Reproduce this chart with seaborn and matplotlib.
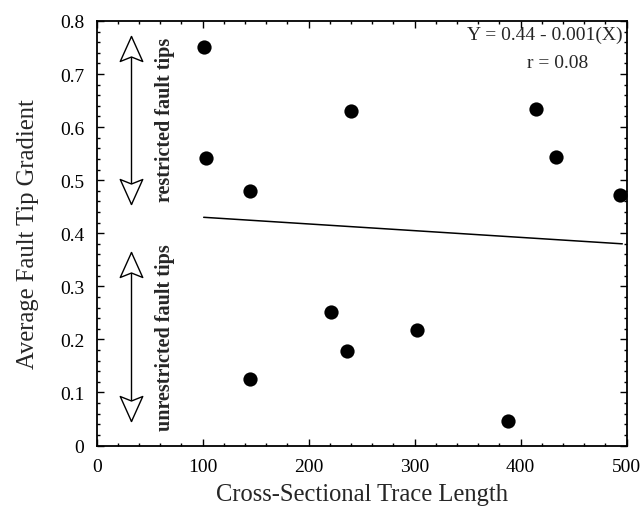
import matplotlib
matplotlib.use("Agg")
import matplotlib.pyplot as plt
from matplotlib.path import Path
from matplotlib.ticker import MultipleLocator
import seaborn as sns
import pandas as pd

# Data
trace_length = [101, 103, 145, 145, 221, 236, 240, 302, 388, 415, 433, 494]
tip_gradient = [0.751, 0.541, 0.480, 0.126, 0.251, 0.179, 0.631, 0.218, 0.047, 0.634, 0.544, 0.472]
fit_x = [101, 496]
fit_y = [0.430, 0.380]
x_ticks = [0, 100, 200, 300, 400, 500]
y_ticks = [0, 0.1, 0.2, 0.3, 0.4, 0.5, 0.6, 0.7, 0.8]
y_ticklabels = ["0", "0.1", "0.2", "0.3", "0.4", "0.5", "0.6", "0.7", "0.8"]

sns.set_style("ticks")
plt.rcParams["font.family"] = ["Liberation Serif", "DejaVu Serif"]

fig = plt.figure(figsize=(6.4, 5.1), dpi=100)
ax = fig.add_axes([0.151, 0.1245, 0.828, 0.8325])

df = pd.DataFrame({"x": trace_length, "y": tip_gradient})
sns.scatterplot(data=df, x="x", y="y", ax=ax, s=105, color="black",
                edgecolor="black", linewidth=0, zorder=3, clip_on=False)
fit = pd.DataFrame({"x": fit_x, "y": fit_y})
sns.lineplot(data=fit, x="x", y="y", ax=ax, color="black", linewidth=1.1)

ax.set_xlim(0, 500)
ax.set_ylim(0, 0.8)
ax.set_xticks(x_ticks)
ax.set_xticklabels([str(t) for t in x_ticks])
ax.set_yticks(y_ticks)
ax.set_yticklabels(y_ticklabels)
ax.xaxis.set_minor_locator(MultipleLocator(20))
ax.yaxis.set_minor_locator(MultipleLocator(0.02))
ax.tick_params(which="both", direction="in", top=True, right=True,
               width=1.0, colors="black")
ax.tick_params(which="major", length=5, labelsize=14, pad=9)
ax.tick_params(which="minor", length=2.5)
for sp in ax.spines.values():
    sp.set_visible(True)
    sp.set_linewidth(1.3)
    sp.set_color("black")

ax.set_xlabel("Cross-Sectional Trace Length", fontsize=17.7, labelpad=6)
ax.set_ylabel("Average Fault Tip Gradient", fontsize=17.7, labelpad=15)

# Regression annotation
ax.text(423, 0.775, "Y = 0.44 - 0.001(X)", fontsize=14, ha="center", va="center")
ax.text(435, 0.722, "r = 0.08", fontsize=14, ha="center", va="center")

# Double-headed open arrows (concave heads as custom markers, tip at origin)
up_head = Path([(0, 0), (-0.45, -1.0), (0, -0.82), (0.45, -1.0), (0, 0)],
               [Path.MOVETO, Path.LINETO, Path.LINETO, Path.LINETO, Path.CLOSEPOLY])
down_head = Path([(0, 0), (-0.45, 1.0), (0, 0.82), (0.45, 1.0), (0, 0)],
                 [Path.MOVETO, Path.LINETO, Path.LINETO, Path.LINETO, Path.CLOSEPOLY])
arrow_x = 32.5
for y_low, y_high in [(0.455, 0.772), (0.047, 0.365)]:
    ax.plot([arrow_x, arrow_x], [y_low, y_high], color="black", lw=1.0, zorder=2,
            solid_capstyle="butt")
    ax.plot([arrow_x], [y_high], marker=up_head, markersize=36,
            markerfacecolor="white", markeredgecolor="black",
            markeredgewidth=1.0, zorder=2.5, linestyle="none")
    ax.plot([arrow_x], [y_low], marker=down_head, markersize=36,
            markerfacecolor="white", markeredgecolor="black",
            markeredgewidth=1.0, zorder=2.5, linestyle="none")

ax.text(64.5, 0.615, "restricted fault tips", rotation=90, fontsize=14.5,
        fontweight="bold", ha="center", va="center")
ax.text(64.5, 0.205, "unrestricted fault tips", rotation=90, fontsize=14.5,
        fontweight="bold", ha="center", va="center")

fig.savefig("out.png", dpi=100)
